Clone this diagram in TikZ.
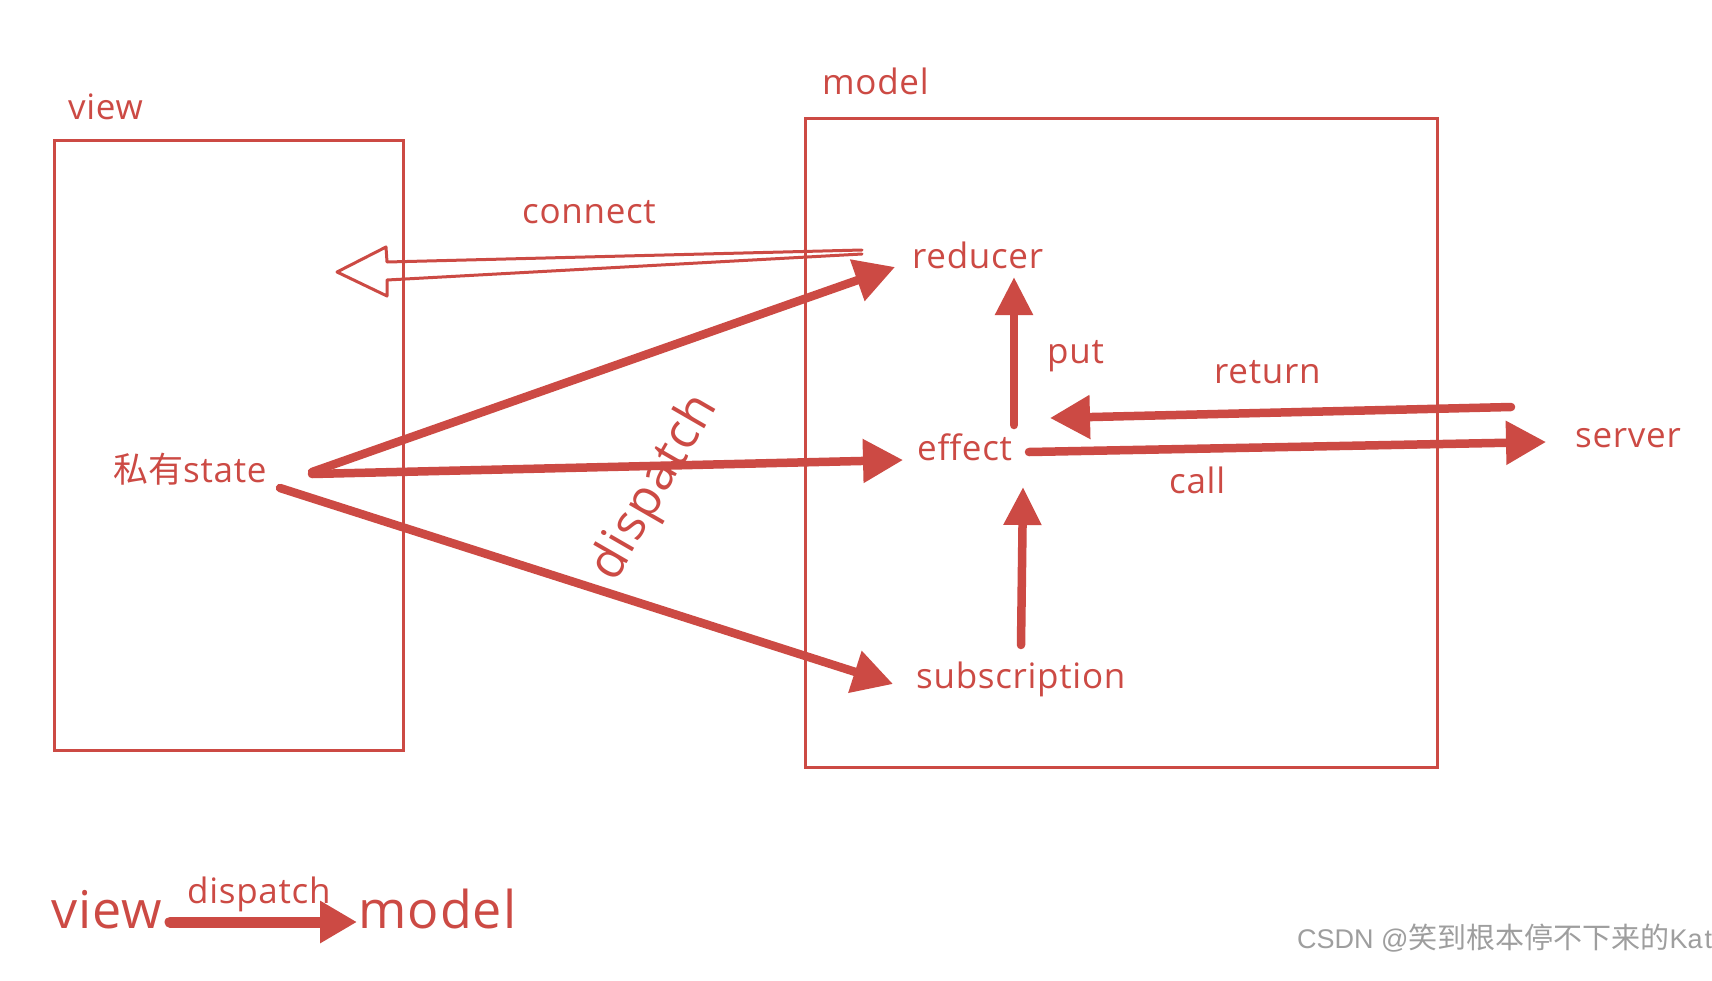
\documentclass[tikz,border=0pt]{standalone}
\usepackage{fontspec}
\setmainfont{Open Sans}[LetterSpace=2]
\newfontfamily\cjk{Noto Sans CJK SC}
\newfontfamily\wmfont{Liberation Sans}
\usetikzlibrary{arrows.meta}
\definecolor{rd}{RGB}{204,74,68}
\definecolor{wmgrey}{RGB}{158,158,158}

\begin{document}
\begin{tikzpicture}[x=1pt,y=-1pt,
  lbl/.style={text=rd, font=\fontsize{35}{40}\selectfont, inner sep=0pt, anchor=base west},
  biglbl/.style={text=rd, font=\fontsize{52}{60}\selectfont, inner sep=0pt, anchor=base west},
  boxline/.style={draw=rd, line width=2.6pt, inner sep=0pt, anchor=north west},
  fatarrow/.style={draw=rd, line width=8.5pt, line cap=round, -{Triangle[length=40pt,width=42pt]}},
  hollowarrow/.style={draw=rd, line width=3pt, line join=round, line cap=round},
]
\useasboundingbox (0,0) rectangle (1712,980);
\fill[white] (0,0) rectangle (1712,980);

% boxes
\node[boxline, minimum width=349pt, minimum height=610pt] (viewbox) at (53,139) {};
\node[boxline, minimum width=632pt, minimum height=649pt] (modelbox) at (804,117) {};

% labels
\node[lbl] (viewlbl) at (68,119) {view};
\node[lbl] (modellbl) at (822,94) {model};
\node[lbl] (connect) at (522,223) {connect};
\node[lbl] (reducer) at (912,268) {reducer};
\node[lbl] (put) at (1047,363) {put};
\node[lbl] (return) at (1214,383) {return};
\node[lbl] (effect) at (917,460) {effect};
\node[lbl] (call) at (1169,493) {call};
\node[lbl] (server) at (1575,447) {server};
\node[lbl] (subscription) at (916,688) {subscription};
\node[lbl] (state) at (113,482) {{\cjk 私有}state};
\node[biglbl, font=\fontsize{50}{60}\selectfont, rotate=60, anchor=center] (rdispatch) at (655,488) {dispatch};

% legend
\node[biglbl] (bview) at (51,928) {view};
\node[lbl] (bdispatch) at (187,903) {dispatch};
\node[biglbl] (bmodel) at (358,928) {model};

% watermark
\node[anchor=base west, text=wmgrey, inner sep=0pt] (wm) at (1297,948)
  {\wmfont\fontsize{27}{30}\selectfont CSDN @{\cjk\fontsize{29}{30}\selectfont 笑到根本停不下来的}Ka\hspace{2pt}t};

% arrow end points
\coordinate (s1) at (312,472);
\coordinate (s2) at (312,474);
\coordinate (s3) at (280,488);
\coordinate (tRed) at (895,267);
\coordinate (tEff) at (903,460);
\coordinate (tSub) at (893,684);
\coordinate (putS) at (1014,425);
\coordinate (putT) at (1014,277);
\coordinate (retS) at (1511,407);
\coordinate (retT) at (1050,418);
\coordinate (callS) at (1029,452);
\coordinate (callT) at (1546,442);
\coordinate (subS) at (1021,645);
\coordinate (subT) at (1023,487);
\coordinate (legS) at (170,922);
\coordinate (legT) at (357,922);
\coordinate (conA) at (862,250);
\coordinate (conB) at (862,254);
\coordinate (conTip) at (337,272);

% dispatch arrows
\draw[fatarrow] (s1) -- (tRed);
\draw[fatarrow] (s2) -- (tEff);
\draw[fatarrow] (s3) -- (tSub);
% model internal arrows
\draw[fatarrow, -{Triangle[length=38pt,width=36pt]}] (putS) -- (putT);
\draw[fatarrow] (retS) -- (retT);
\draw[fatarrow] (callS) -- (callT);
\draw[fatarrow, -{Triangle[length=38pt,width=36pt]}] (subS) -- (subT);
% connect (hollow arrow)
\draw[hollowarrow] (conA) -- (387,262) -- (386,247) -- (conTip) -- (387,296) -- (387,280) -- (conB);
% legend arrow
\draw[fatarrow, line width=11pt, -{Triangle[length=37pt,width=40pt]}] (legS) -- (legT);
\end{tikzpicture}
\end{document}
